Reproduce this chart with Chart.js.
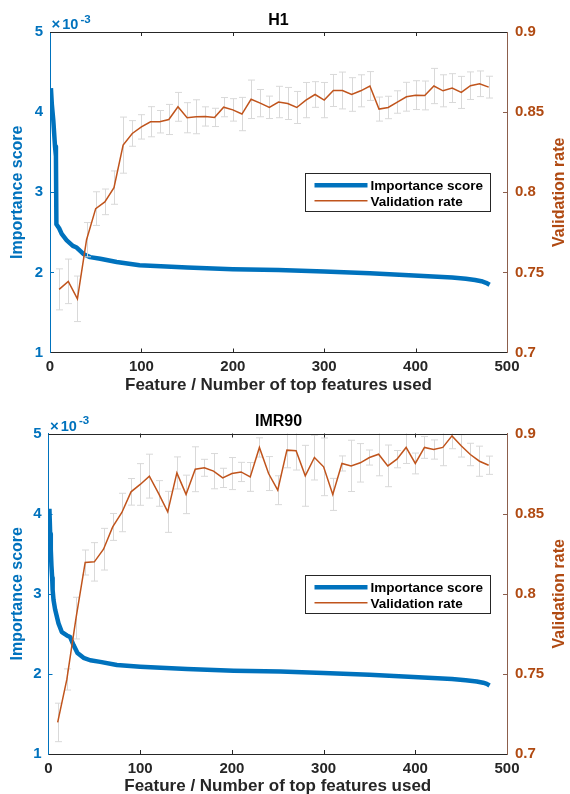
<!DOCTYPE html>
<html>
<head>
<meta charset="utf-8">
<script src="https://cdn.jsdelivr.net/npm/chart.js@4.4.0/dist/chart.umd.min.js"></script>
<style>
  html, body { margin: 0; padding: 0; background: #fff; overflow: hidden; }
  #wrap { position: relative; width: 570px; height: 794px; }
  canvas { position: absolute; left: 0; }
</style>
</head>
<body>
<div id="wrap">
  <canvas id="chartH1" width="570" height="397" style="top:0"></canvas>
  <canvas id="chartIMR90" width="570" height="400" style="top:397px"></canvas>
</div>
<script>
// number of top features used for each validation run
const rateX = [10, 20, 30, 40, 50, 60, 70, 80, 90, 100, 110, 120, 130, 140, 150, 160,
  170, 180, 190, 200, 210, 220, 230, 240, 250, 260, 270, 280, 290, 300, 310, 320,
  330, 340, 350, 360, 370, 380, 390, 400, 410, 420, 430, 440, 450, 460, 470, 480];

// H1 : importance score (x10^-3) sampled along the sorted feature index
const impXH1 = [1, 2, 3.6, 5.5, 6.5, 7, 10, 12.8, 18.3, 25, 29.2, 36.5, 43.8, 55, 73, 98,
  150, 200, 250, 300, 350, 398, 440, 455, 465, 472, 477, 481];
const impH1 = [4.3, 4.1, 3.9, 3.57, 3.45, 2.6, 2.55, 2.48, 2.4, 2.33, 2.31, 2.23, 2.19, 2.17, 2.13, 2.09,
  2.06, 2.04, 2.03, 2.01, 1.99, 1.96, 1.935, 1.92, 1.905, 1.89, 1.87, 1.845];
const rateH1 = [0.7394, 0.7444, 0.7335, 0.7704, 0.7898, 0.7940, 0.8029, 0.8294, 0.8367, 0.8408,
  0.8440, 0.8440, 0.8454, 0.8533, 0.8465, 0.8471, 0.8473, 0.8467, 0.8531, 0.8514,
  0.8488, 0.8580, 0.8556, 0.8530, 0.8563, 0.8554, 0.8529, 0.8575, 0.8610, 0.8575,
  0.8635, 0.8635, 0.8610, 0.8633, 0.8663, 0.8519, 0.8529, 0.8563, 0.8596, 0.8606,
  0.8604, 0.8663, 0.8633, 0.8650, 0.8623, 0.8665, 0.8677, 0.8656];
const errH1 = [0.0128, 0.0139, 0.0142, 0.0107, 0.0105, 0.008, 0.0104, 0.0175, 0.008, 0.0076,
  0.0094, 0.007, 0.0094, 0.009, 0.0094, 0.0106, 0.006, 0.0057, 0.006, 0.007,
  0.0104, 0.012, 0.0085, 0.007, 0.0098, 0.010, 0.010, 0.011, 0.008, 0.011,
  0.010, 0.0115, 0.0105, 0.010, 0.009, 0.0075, 0.007, 0.007, 0.009, 0.009,
  0.009, 0.011, 0.010, 0.009, 0.010, 0.0086, 0.008, 0.0068];

// IMR90
const impXIMR90 = [1, 1.8, 2.5, 3.2, 4, 4.5, 5.5, 7.3, 10.9, 14.6, 20, 23.6, 27.3, 31.6, 38.2, 45.5,
  56.4, 74.6, 100, 151, 202, 253, 300, 350, 398, 440, 455, 467, 474, 478, 481];
const impIMR90 = [4.06, 3.75, 3.55, 3.35, 3.2, 3.05, 2.92, 2.8, 2.63, 2.52, 2.48, 2.46, 2.36, 2.26, 2.2, 2.17,
  2.15, 2.11, 2.09, 2.06, 2.04, 2.03, 2.01, 1.99, 1.96, 1.935, 1.92, 1.905, 1.89, 1.875, 1.855];
const rateIMR90 = [0.7197, 0.7465, 0.7848, 0.8195, 0.8199, 0.8278, 0.8417, 0.8507, 0.8636, 0.8682,
  0.8734, 0.8626, 0.8511, 0.8754, 0.8620, 0.8777, 0.8786, 0.8765, 0.8723, 0.8750,
  0.8760, 0.8729, 0.8913, 0.8750, 0.8646, 0.8896, 0.8892, 0.8736, 0.8850, 0.8792,
  0.8620, 0.8813, 0.8798, 0.8817, 0.8850, 0.8871, 0.8798, 0.8840, 0.8913, 0.8813,
  0.8913, 0.8900, 0.8913, 0.8985, 0.8923, 0.8869, 0.8827, 0.8802];
const errIMR90 = [0.012, 0.0066, 0.013, 0.0078, 0.012, 0.013, 0.0084, 0.012, 0.0083, 0.013,
  0.0137, 0.008, 0.0128, 0.010, 0.012, 0.014, 0.0053, 0.011, 0.006, 0.010,
  0.006, 0.009, 0.006, 0.0106, 0.009, 0.011, 0.012, 0.019, 0.014, 0.018,
  0.010, 0.0047, 0.016, 0.012, 0.0047, 0.0135, 0.013, 0.0054, 0.010, 0.0065,
  0.0068, 0.006, 0.0114, 0.008, 0.007, 0.007, 0.0094, 0.0057];

const BLUE = '#0072BD';
const ORANGE = '#C0541C';
const ORANGE_TXT = '#B04A12';
const RIGHT_AXIS = '#8C5F4C';
const DARK = '#262626';
const FONT = '"Liberation Sans", Arial, Helvetica, sans-serif';

Chart.defaults.font.family = FONT;
Chart.defaults.font.weight = 'bold';

// error bars, inner ticks, top border, exponent, right label and legend (matlab look)
const matlabDecor = {
  id: 'matlabDecor',
  beforeDatasetDraw(chart, args) {
    const ds = chart.data.datasets[args.index];
    if (!ds.errorBars) return;
    const { ctx, chartArea: a } = chart;
    const xs = chart.scales.x, ys = chart.scales[ds.yAxisID];
    ctx.save();
    ctx.beginPath();
    ctx.rect(a.left, a.top, a.right - a.left, a.bottom - a.top);
    ctx.clip();
    ctx.strokeStyle = '#d9d9d9';
    ctx.lineWidth = 1;
    ds.data.forEach((p, i) => {
      const e = ds.errorBars[i];
      const x = Math.round(xs.getPixelForValue(p.x)) + 0.5;
      const y1 = ys.getPixelForValue(p.y - e), y2 = ys.getPixelForValue(p.y + e);
      ctx.beginPath();
      ctx.moveTo(x, y1); ctx.lineTo(x, y2);
      ctx.moveTo(x - 3.5, y1); ctx.lineTo(x + 3.5, y1);
      ctx.moveTo(x - 3.5, y2); ctx.lineTo(x + 3.5, y2);
      ctx.stroke();
    });
    ctx.restore();
  },
  afterDraw(chart) {
    const { ctx, chartArea: a, scales } = chart;
    ctx.save();
    // top border
    ctx.strokeStyle = DARK;
    ctx.lineWidth = 1;
    const yt = Math.round(a.top) + 0.5;
    ctx.beginPath(); ctx.moveTo(a.left, yt); ctx.lineTo(a.right, yt); ctx.stroke();
    // inner ticks
    const tl = 4;
    scales.x.ticks.forEach(t => {
      const px = Math.round(scales.x.getPixelForValue(t.value)) + 0.5;
      if (px <= a.left + 1 || px >= a.right - 1) return;
      ctx.beginPath();
      ctx.moveTo(px, a.bottom); ctx.lineTo(px, a.bottom - tl);
      ctx.moveTo(px, a.top); ctx.lineTo(px, a.top + tl);
      ctx.stroke();
    });
    ctx.strokeStyle = BLUE;
    scales.yL.ticks.forEach(t => {
      const py = Math.round(scales.yL.getPixelForValue(t.value)) + 0.5;
      if (py <= a.top + 1 || py >= a.bottom - 1) return;
      ctx.beginPath(); ctx.moveTo(a.left, py); ctx.lineTo(a.left + tl, py); ctx.stroke();
    });
    ctx.strokeStyle = RIGHT_AXIS;
    scales.yR.ticks.forEach(t => {
      const py = Math.round(scales.yR.getPixelForValue(t.value)) + 0.5;
      if (py <= a.top + 1 || py >= a.bottom - 1) return;
      ctx.beginPath(); ctx.moveTo(a.right, py); ctx.lineTo(a.right - tl, py); ctx.stroke();
    });
    // x10^-3 exponent
    ctx.fillStyle = BLUE;
    ctx.textAlign = 'left';
    ctx.textBaseline = 'alphabetic';
    ctx.font = 'bold 15px ' + FONT;
    ctx.fillText('\u00d7', a.left + 1.5, a.top - 3);
    ctx.font = 'bold 14.5px ' + FONT;
    ctx.fillText('10', a.left + 12.3, a.top - 3);
    ctx.font = 'bold 11.5px ' + FONT;
    ctx.fillText('-3', a.left + 30.5, a.top - 9.5);
    // right axis label (reads bottom to top)
    ctx.fillStyle = ORANGE_TXT;
    ctx.font = 'bold 16px ' + FONT;
    ctx.translate(a.right + 56.5, (a.top + a.bottom) / 2);
    ctx.rotate(-Math.PI / 2);
    ctx.textAlign = 'center';
    ctx.fillText('Validation rate', 0, 0);
    ctx.setTransform(1, 0, 0, 1, 0, 0);
    // legend
    const bx = Math.round(a.right - 202) + 0.5, by = Math.round(a.top + 141.3) + 0.5;
    ctx.fillStyle = '#fff';
    ctx.fillRect(bx, by, 185, 38);
    ctx.strokeStyle = DARK;
    ctx.lineWidth = 1;
    ctx.strokeRect(bx, by, 185, 38);
    ctx.font = 'bold 13.5px ' + FONT;
    ctx.textAlign = 'left';
    chart.data.datasets.forEach((ds, i) => {
      const ry = by + 11.7 + i * 15.6;
      ctx.strokeStyle = ds.borderColor;
      ctx.lineWidth = ds.borderWidth;
      ctx.beginPath(); ctx.moveTo(bx + 9, ry); ctx.lineTo(bx + 62, ry); ctx.stroke();
      ctx.fillStyle = '#000';
      ctx.fillText(ds.label, bx + 65, ry + 4.8);
    });
    ctx.restore();
  }
};

function makePanel(id, title, impX, imp, rate, err, box) {
  return new Chart(document.getElementById(id), {
    type: 'line',
    data: {
      datasets: [{
        label: 'Importance score',
        data: impX.map((x, i) => ({ x: x, y: imp[i] })),
        yAxisID: 'yL',
        borderColor: BLUE,
        borderWidth: 4.5,
        borderJoinStyle: 'round',
        pointRadius: 0,
        order: 2
      }, {
        label: 'Validation rate',
        data: rateX.map((x, i) => ({ x: x, y: rate[i] })),
        errorBars: err,
        yAxisID: 'yR',
        borderColor: ORANGE,
        borderWidth: 1.5,
        pointRadius: 0,
        order: 1
      }]
    },
    options: {
      responsive: false,
      animation: false,
      layout: { padding: { left: 0, right: 13, top: 0, bottom: 0 } },
      plugins: {
        legend: { display: false },
        tooltip: { enabled: false },
        title: {
          display: true, text: title, color: '#000',
          font: { size: 16, weight: 'bold' },
          padding: { top: box.titleTop, bottom: box.titleBottom }
        }
      },
      scales: {
        x: {
          type: 'linear', position: 'bottom', min: 0, max: 500,
          ticks: { stepSize: 100, color: DARK, font: { size: 15, weight: 'bold' }, padding: 5.5, maxRotation: 0 },
          grid: { display: false, drawTicks: false },
          border: { display: true, color: DARK, width: 1 },
          title: {
            display: true, text: 'Feature / Number of top features used', color: DARK,
            font: { size: 17, weight: 'bold' }, padding: { top: 0, bottom: box.xTitlePad }
          },
          afterFit: s => { s.height = box.xHeight; }
        },
        yL: {
          type: 'linear', position: 'left', min: 1, max: 5,
          ticks: { stepSize: 1, color: BLUE, font: { size: 15, weight: 'bold' }, padding: 7 },
          grid: { display: false, drawTicks: false },
          border: { display: true, color: BLUE, width: 1 },
          title: {
            display: true, text: 'Importance score', color: BLUE,
            font: { size: 16, weight: 'bold' }, padding: { top: 8.1, bottom: 0 }
          },
          afterFit: s => { s.width = box.left; }
        },
        yR: {
          type: 'linear', position: 'right', min: 0.7, max: 0.9,
          ticks: {
            stepSize: 0.05, color: ORANGE_TXT, font: { size: 15, weight: 'bold' }, padding: 8,
            callback: v => String(Number(v.toFixed(2)))
          },
          grid: { display: false, drawTicks: false },
          border: { display: true, color: RIGHT_AXIS, width: 1 },
          afterFit: s => { s.width = 50; }
        }
      }
    },
    plugins: [matlabDecor]
  });
}

const chartH1 = makePanel('chartH1', 'H1', impXH1, impH1, rateH1, errH1,
  { left: 50, titleTop: 10.6, titleBottom: 2.2, xHeight: 44.5, xTitlePad: 1 });
const chartIMR90 = makePanel('chartIMR90', 'IMR90', impXIMR90, impIMR90, rateIMR90, errIMR90,
  { left: 48.5, titleTop: 14.9, titleBottom: 2.4, xHeight: 43, xTitlePad: 0 });
</script>
</body>
</html>
